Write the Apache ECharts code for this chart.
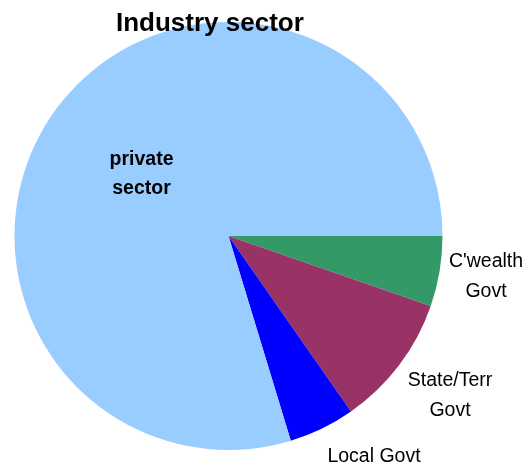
<!DOCTYPE html>
<html>
<head>
<meta charset="utf-8">
<script src="https://cdn.jsdelivr.net/npm/echarts@6/dist/echarts.min.js"></script>
<style>
  html, body { margin: 0; padding: 0; background: #fff; }
  #chart { width: 531px; height: 466px; }
</style>
</head>
<body>
<div id="chart"></div>
<script>
// Share of employment by industry sector (%)
const categories = ["C'wealth\nGovt", "State/Terr\nGovt", "Local Govt", "private\nsector"];
const shares = [5.3, 10.0, 5.0, 79.7];
const colors = ['#339966', '#993366', '#0000FF', '#99CCFF'];

// label anchor points (centre of each text block)
const labelSpots = [[486, 277], [450, 396], [374, 457], [141.5, 174]];

const chart = echarts.init(document.getElementById('chart'), null, { renderer: 'canvas' });

const data = categories.map((name, i) => ({
  name: name,
  value: shares[i],
  itemStyle: { color: colors[i] },
  label: i === 3
    ? { position: 'inside', fontWeight: 'bold', fontSize: 19.5, lineHeight: 29 }
    : { position: 'outside', lineHeight: 30 }
}));

chart.setOption({
  animation: false,
  title: {
    text: 'Industry sector',
    left: 116,
    top: 11,
    padding: 0,
    textStyle: {
      fontFamily: 'Liberation Sans',
      fontSize: 26,
      fontWeight: 'bold',
      color: '#000'
    }
  },
  series: [{
    type: 'pie',
    center: [228.5, 236],
    radius: 214,
    startAngle: 0,
    clockwise: true,
    avoidLabelOverlap: false,
    silent: true,
    itemStyle: { borderWidth: 0 },
    label: {
      show: true,
      formatter: '{b}',
      fontFamily: 'Liberation Sans',
      fontSize: 19.5,
      color: '#000',
      align: 'center'
    },
    labelLine: { show: false },
    labelLayout: function (params) {
      const spot = labelSpots[params.dataIndex];
      return { x: spot[0], y: spot[1], align: 'center', verticalAlign: 'middle' };
    },
    data: data
  }]
});
</script>
</body>
</html>
